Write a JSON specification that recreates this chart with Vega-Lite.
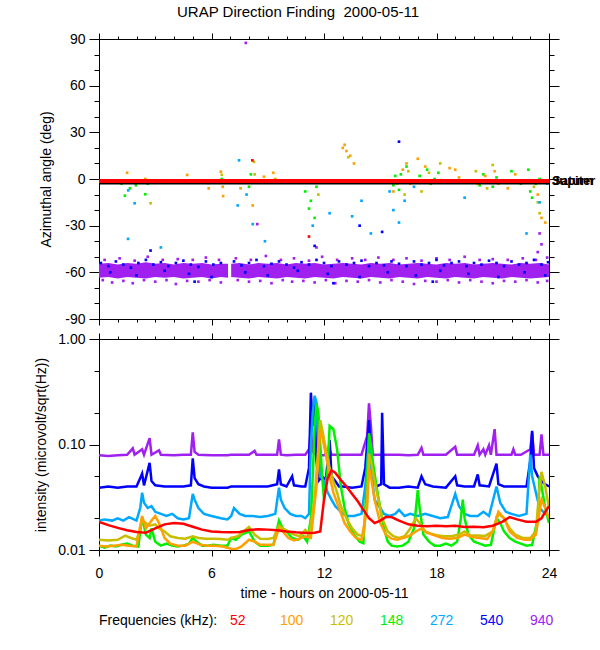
{
  "$schema": "https://vega.github.io/schema/vega-lite/v6.json",
  "title": {"text": "URAP Direction Finding \u00a02000-05-11", "fontSize": 15, "fontWeight": "normal", "font": "Liberation Sans", "color": "black", "anchor": "middle", "dx": -17, "offset": 12},
  "padding": {"left": 34, "top": 5, "right": 5, "bottom": 5},
  "spacing": 20,
  "bounds": "flush",
  "datasets": {
    "band": [
      {"t":0,"lo":-63.5,"hi":-54.5,"seg":"A"},{"t":0.5,"lo":-63,"hi":-54,"seg":"A"},{"t":1,"lo":-64,"hi":-55,"seg":"A"},{"t":1.5,"lo":-63,"hi":-54,"seg":"A"},{"t":2,"lo":-63.5,"hi":-54.5,"seg":"A"},{"t":2.5,"lo":-64,"hi":-53.5,"seg":"A"},{"t":3,"lo":-63,"hi":-54.5,"seg":"A"},{"t":3.5,"lo":-63.5,"hi":-54,"seg":"A"},{"t":4,"lo":-63,"hi":-55,"seg":"A"},{"t":4.5,"lo":-64,"hi":-54,"seg":"A"},{"t":5,"lo":-63.5,"hi":-54.5,"seg":"A"},{"t":5.5,"lo":-63,"hi":-54,"seg":"A"},{"t":6,"lo":-64,"hi":-55,"seg":"A"},{"t":6.5,"lo":-63,"hi":-54.5,"seg":"A"},{"t":6.88,"lo":-63.5,"hi":-54.5,"seg":"A"},
      {"t":7.05,"lo":-63,"hi":-54.5,"seg":"B"},{"t":7.5,"lo":-63.5,"hi":-54,"seg":"B"},{"t":8,"lo":-64,"hi":-55,"seg":"B"},{"t":8.5,"lo":-63,"hi":-54,"seg":"B"},{"t":9,"lo":-63.5,"hi":-54.5,"seg":"B"},{"t":9.5,"lo":-64,"hi":-54,"seg":"B"},{"t":10,"lo":-63,"hi":-55,"seg":"B"},{"t":10.5,"lo":-63.5,"hi":-54,"seg":"B"},{"t":11,"lo":-64,"hi":-54.5,"seg":"B"},{"t":11.5,"lo":-63,"hi":-54,"seg":"B"},{"t":12,"lo":-63.5,"hi":-55,"seg":"B"},{"t":12.5,"lo":-64,"hi":-54.5,"seg":"B"},{"t":13,"lo":-63,"hi":-54,"seg":"B"},{"t":13.5,"lo":-63.5,"hi":-54.5,"seg":"B"},{"t":14,"lo":-64,"hi":-55,"seg":"B"},{"t":14.5,"lo":-63,"hi":-54,"seg":"B"},{"t":15,"lo":-63.5,"hi":-54.5,"seg":"B"},{"t":15.5,"lo":-64,"hi":-54,"seg":"B"},{"t":16,"lo":-63,"hi":-55,"seg":"B"},{"t":16.5,"lo":-63.5,"hi":-54.5,"seg":"B"},{"t":17,"lo":-64,"hi":-54,"seg":"B"},{"t":17.5,"lo":-63,"hi":-54.5,"seg":"B"},{"t":18,"lo":-63.5,"hi":-55,"seg":"B"},{"t":18.5,"lo":-64,"hi":-54,"seg":"B"},{"t":19,"lo":-63,"hi":-54.5,"seg":"B"},{"t":19.5,"lo":-63.5,"hi":-54,"seg":"B"},{"t":20,"lo":-64,"hi":-55,"seg":"B"},{"t":20.5,"lo":-63,"hi":-54.5,"seg":"B"},{"t":21,"lo":-63.5,"hi":-54,"seg":"B"},{"t":21.5,"lo":-64,"hi":-54.5,"seg":"B"},{"t":22,"lo":-63,"hi":-55,"seg":"B"},{"t":22.5,"lo":-63.5,"hi":-54,"seg":"B"},{"t":23,"lo":-64,"hi":-54.5,"seg":"B"},{"t":23.5,"lo":-63.5,"hi":-54,"seg":"B"},{"t":24,"lo":-63,"hi":-55,"seg":"B"}
    ],
    "body": [
      {"body":"Jupiter","t":0,"a":-2.9},{"body":"Jupiter","t":24,"a":-2.9},
      {"body":"Saturn","t":0,"a":-1.3},{"body":"Saturn","t":24,"a":-1.3}
    ],
    "dfa": [
      {"t":0.3,"a":-52,"f":940},{"t":1.1,"a":-51,"f":940},{"t":1.9,"a":-52.5,"f":940},{"t":2.6,"a":-50,"f":940},{"t":3.4,"a":-52,"f":940},{"t":4.2,"a":-51.5,"f":940},{"t":5.0,"a":-52,"f":940},{"t":5.7,"a":-50.5,"f":940},{"t":6.4,"a":-52,"f":940},{"t":7.3,"a":-51,"f":940},{"t":8.1,"a":-52,"f":940},{"t":8.9,"a":-49.5,"f":940},{"t":9.7,"a":-52,"f":940},{"t":10.4,"a":-51,"f":940},{"t":11.2,"a":-52.5,"f":940},{"t":11.9,"a":-50,"f":940},{"t":12.7,"a":-52,"f":940},{"t":13.5,"a":-51,"f":940},{"t":14.2,"a":-52,"f":940},{"t":14.9,"a":-50.5,"f":940},{"t":15.7,"a":-52,"f":940},{"t":16.4,"a":-51,"f":940},{"t":17.2,"a":-52.5,"f":940},{"t":18.0,"a":-51,"f":940},{"t":18.7,"a":-52,"f":940},{"t":19.5,"a":-50,"f":940},{"t":20.3,"a":-52,"f":940},{"t":21.0,"a":-51.5,"f":940},{"t":21.8,"a":-52,"f":940},{"t":22.6,"a":-51,"f":940},{"t":23.3,"a":-52,"f":940},{"t":23.9,"a":-50.5,"f":940},
      {"t":0.2,"a":-65,"f":940},{"t":0.7,"a":-66.5,"f":940},{"t":1.3,"a":-65.5,"f":940},{"t":1.8,"a":-67,"f":940},{"t":2.4,"a":-65,"f":940},{"t":3.0,"a":-66,"f":940},{"t":3.6,"a":-65,"f":940},{"t":4.1,"a":-67.5,"f":940},{"t":4.7,"a":-65.5,"f":940},{"t":5.3,"a":-66,"f":940},{"t":5.9,"a":-65,"f":940},{"t":6.5,"a":-66.5,"f":940},{"t":7.4,"a":-65,"f":940},{"t":8.0,"a":-66,"f":940},{"t":8.6,"a":-65.5,"f":940},{"t":9.2,"a":-67,"f":940},{"t":9.8,"a":-65,"f":940},{"t":10.3,"a":-66,"f":940},{"t":10.9,"a":-65.5,"f":940},{"t":11.5,"a":-66.5,"f":940},{"t":12.1,"a":-65,"f":940},{"t":12.6,"a":-67,"f":940},{"t":13.2,"a":-65.5,"f":940},{"t":13.8,"a":-66,"f":940},{"t":14.4,"a":-65,"f":940},{"t":15.0,"a":-66.5,"f":940},{"t":15.6,"a":-65,"f":940},{"t":16.2,"a":-66,"f":940},{"t":16.8,"a":-67.5,"f":940},{"t":17.4,"a":-65.5,"f":940},{"t":18.0,"a":-66,"f":940},{"t":18.6,"a":-65,"f":940},{"t":19.2,"a":-66.5,"f":940},{"t":19.8,"a":-65,"f":940},{"t":20.4,"a":-66,"f":940},{"t":21.0,"a":-67,"f":940},{"t":21.6,"a":-65.5,"f":940},{"t":22.2,"a":-66,"f":940},{"t":22.8,"a":-65,"f":940},{"t":23.4,"a":-66.5,"f":940},{"t":23.9,"a":-65.5,"f":940},
      {"t":7.83,"a":87.5,"f":940},{"t":8.44,"a":-29,"f":940},{"t":23.5,"a":-35,"f":940},{"t":23.6,"a":-42,"f":940},{"t":23.4,"a":-47,"f":940},{"t":11.6,"a":-44,"f":940},
      {"t":0.1,"a":-54,"f":540},{"t":0.5,"a":-56,"f":540},{"t":0.9,"a":-53,"f":540},{"t":1.3,"a":-55,"f":540},{"t":1.7,"a":-57,"f":540},{"t":2.1,"a":-54,"f":540},{"t":2.5,"a":-52,"f":540},{"t":2.9,"a":-55,"f":540},{"t":3.3,"a":-53.5,"f":540},{"t":3.7,"a":-56,"f":540},{"t":4.1,"a":-54,"f":540},{"t":4.5,"a":-52.5,"f":540},{"t":4.9,"a":-55,"f":540},{"t":5.3,"a":-56.5,"f":540},{"t":5.7,"a":-53,"f":540},{"t":6.1,"a":-55,"f":540},{"t":6.5,"a":-54,"f":540},{"t":7.2,"a":-53,"f":540},{"t":7.6,"a":-55.5,"f":540},{"t":8.0,"a":-54,"f":540},{"t":8.4,"a":-52,"f":540},{"t":8.8,"a":-56,"f":540},{"t":9.2,"a":-54.5,"f":540},{"t":9.6,"a":-53,"f":540},{"t":10.0,"a":-55,"f":540},{"t":10.4,"a":-57,"f":540},{"t":10.8,"a":-53.5,"f":540},{"t":11.2,"a":-55,"f":540},{"t":11.6,"a":-52,"f":540},{"t":12.0,"a":-54,"f":540},{"t":12.4,"a":-56,"f":540},{"t":12.8,"a":-53,"f":540},{"t":13.2,"a":-55,"f":540},{"t":13.6,"a":-54,"f":540},{"t":14.0,"a":-52.5,"f":540},{"t":14.4,"a":-56,"f":540},{"t":14.8,"a":-54,"f":540},{"t":15.2,"a":-55.5,"f":540},{"t":15.6,"a":-53,"f":540},{"t":16.0,"a":-54.5,"f":540},{"t":16.4,"a":-56,"f":540},{"t":16.8,"a":-53,"f":540},{"t":17.2,"a":-55,"f":540},{"t":17.6,"a":-54,"f":540},{"t":18.0,"a":-52,"f":540},{"t":18.4,"a":-55.5,"f":540},{"t":18.8,"a":-54,"f":540},{"t":19.2,"a":-53,"f":540},{"t":19.6,"a":-56,"f":540},{"t":20.0,"a":-54,"f":540},{"t":20.4,"a":-55,"f":540},{"t":20.8,"a":-52.5,"f":540},{"t":21.2,"a":-54,"f":540},{"t":21.6,"a":-56,"f":540},{"t":22.0,"a":-53,"f":540},{"t":22.4,"a":-55,"f":540},{"t":22.8,"a":-54,"f":540},{"t":23.2,"a":-52,"f":540},{"t":23.6,"a":-55,"f":540},{"t":23.95,"a":-53.5,"f":540},
      {"t":0.6,"a":-60,"f":540},{"t":2.0,"a":-62,"f":540},{"t":3.5,"a":-59,"f":540},{"t":4.8,"a":-61,"f":540},{"t":6.0,"a":-63,"f":540},{"t":7.8,"a":-60,"f":540},{"t":9.0,"a":-62,"f":540},{"t":10.6,"a":-59,"f":540},{"t":12.2,"a":-61,"f":540},{"t":13.9,"a":-63,"f":540},{"t":15.4,"a":-60,"f":540},{"t":16.9,"a":-62,"f":540},{"t":18.2,"a":-59,"f":540},{"t":19.7,"a":-61,"f":540},{"t":21.3,"a":-63,"f":540},{"t":22.7,"a":-60,"f":540},{"t":23.8,"a":-62,"f":540},{"t":5.1,"a":-66,"f":540},{"t":12.5,"a":-67,"f":540},{"t":17.8,"a":-66,"f":540},
      {"t":16.0,"a":24,"f":540},{"t":15.1,"a":-34,"f":540},{"t":2.75,"a":-46,"f":540},{"t":11.5,"a":-43,"f":540},{"t":13.9,"a":-30,"f":540},
      {"t":1.07,"a":-1,"f":148},{"t":1.2,"a":-3,"f":148},{"t":1.38,"a":-10.7,"f":148},{"t":1.5,"a":-2,"f":148},{"t":1.65,"a":-6,"f":148},{"t":1.8,"a":-1.5,"f":148},{"t":1.97,"a":-4,"f":148},{"t":2.47,"a":-9.8,"f":148},{"t":2.6,"a":-3,"f":148},{"t":5.85,"a":-2.5,"f":148},{"t":6.55,"a":0,"f":148},{"t":8.0,"a":-5,"f":148},{"t":8.1,"a":3,"f":148},{"t":11.0,"a":-8,"f":148},{"t":11.2,"a":-19,"f":148},{"t":11.3,"a":-14,"f":148},{"t":11.5,"a":-25,"f":148},{"t":11.6,"a":-5,"f":148},{"t":11.8,"a":-2,"f":148},
      {"t":15.6,"a":-1,"f":148},{"t":15.7,"a":-4,"f":148},{"t":15.8,"a":2,"f":148},{"t":15.9,"a":-1,"f":148},{"t":16.0,"a":-7,"f":148},{"t":16.1,"a":3,"f":148},{"t":16.2,"a":-2,"f":148},{"t":16.4,"a":8,"f":148},{"t":17.1,"a":2,"f":148},{"t":17.3,"a":-1,"f":148},{"t":17.5,"a":6,"f":148},{"t":17.7,"a":-3,"f":148},{"t":17.9,"a":0,"f":148},{"t":18.1,"a":4,"f":148},{"t":20.0,"a":-1,"f":148},{"t":20.3,"a":-4,"f":148},{"t":20.5,"a":3,"f":148},{"t":20.8,"a":-1,"f":148},{"t":21.0,"a":-5,"f":148},{"t":21.2,"a":1,"f":148},{"t":21.4,"a":-2,"f":148},{"t":22.0,"a":5,"f":148},{"t":22.5,"a":-3,"f":148},{"t":22.9,"a":6,"f":148},{"t":23.0,"a":-8,"f":148},{"t":23.1,"a":-12,"f":148},{"t":23.3,"a":-3,"f":148},{"t":23.5,"a":0,"f":148},
      {"t":1.5,"a":4,"f":100},{"t":2.47,"a":0,"f":100},{"t":4.7,"a":2.6,"f":100},{"t":5.85,"a":-6,"f":100},{"t":6.5,"a":4.7,"f":100},{"t":6.6,"a":-5,"f":100},{"t":6.62,"a":-11,"f":100},{"t":7.2,"a":-1,"f":100},{"t":8.2,"a":-17,"f":100},{"t":8.8,"a":1.5,"f":100},{"t":9.3,"a":4,"f":100},{"t":9.4,"a":0,"f":100},{"t":13.0,"a":20,"f":100},{"t":13.2,"a":18,"f":100},{"t":13.4,"a":15,"f":100},{"t":13.6,"a":10,"f":100},{"t":13.1,"a":22,"f":100},{"t":15.7,"a":-8,"f":100},{"t":16.2,"a":6,"f":100},{"t":16.4,"a":10,"f":100},{"t":16.6,"a":-3,"f":100},{"t":17.0,"a":13,"f":100},{"t":17.4,"a":8,"f":100},{"t":18.7,"a":7,"f":100},{"t":19.0,"a":6,"f":100},{"t":19.2,"a":1,"f":100},{"t":20.2,"a":-3,"f":100},{"t":20.6,"a":2,"f":100},{"t":21.1,"a":5,"f":100},{"t":21.8,"a":-6,"f":100},{"t":22.2,"a":3,"f":100},{"t":23.4,"a":-10,"f":100},{"t":23.6,"a":-25,"f":100},{"t":23.8,"a":-28,"f":100},
      {"t":2.75,"a":-15.6,"f":120},{"t":6.55,"a":2.7,"f":120},{"t":7.55,"a":-6,"f":120},{"t":8.27,"a":11,"f":120},{"t":8.3,"a":3,"f":120},{"t":13.3,"a":14,"f":120},{"t":13.5,"a":-2,"f":120},{"t":15.9,"a":-3,"f":120},{"t":16.3,"a":-10,"f":120},{"t":16.5,"a":5,"f":120},{"t":17.2,"a":-8,"f":120},{"t":17.6,"a":4,"f":120},{"t":18.2,"a":10,"f":120},{"t":18.9,"a":-2,"f":120},{"t":20.1,"a":5,"f":120},{"t":20.7,"a":-6,"f":120},{"t":21.0,"a":9,"f":120},{"t":21.3,"a":-3,"f":120},{"t":22.4,"a":-2,"f":120},{"t":23.2,"a":-5,"f":120},{"t":23.4,"a":-15,"f":120},{"t":23.5,"a":-22,"f":120},{"t":11.7,"a":-10,"f":120},
      {"t":1.56,"a":-7.3,"f":272},{"t":1.9,"a":-15.6,"f":272},{"t":1.55,"a":-38.5,"f":272},{"t":3.3,"a":-44,"f":272},{"t":7.47,"a":12,"f":272},{"t":7.4,"a":-17,"f":272},{"t":7.87,"a":-10,"f":272},{"t":8.2,"a":-29,"f":272},{"t":8.85,"a":-40,"f":272},{"t":11.4,"a":-30,"f":272},{"t":12.3,"a":-22,"f":272},{"t":13.5,"a":-24,"f":272},{"t":14.0,"a":-14,"f":272},{"t":14.5,"a":-35,"f":272},{"t":15.5,"a":-8,"f":272},{"t":15.7,"a":-20,"f":272},{"t":16.0,"a":-28,"f":272},{"t":16.3,"a":-14,"f":272},{"t":16.8,"a":-5,"f":272},{"t":19.5,"a":-12,"f":272},{"t":22.8,"a":-35,"f":272},{"t":23.5,"a":-15,"f":272},{"t":23.9,"a":-3,"f":272},
      {"t":8.18,"a":12,"f":52},{"t":11.2,"a":-37,"f":52}
    ],
    "ints": [
      {"t":0,"v":0.079,"f":940},{"t":0.5,"v":0.078,"f":940},{"t":1.0,"v":0.079,"f":940},{"t":1.5,"v":0.08,"f":940},{"t":1.8,"v":0.092,"f":940},{"t":1.9,"v":0.08,"f":940},{"t":2.3,"v":0.09,"f":940},{"t":2.4,"v":0.08,"f":940},{"t":2.7,"v":0.115,"f":940},{"t":2.8,"v":0.08,"f":940},{"t":3.2,"v":0.088,"f":940},{"t":3.3,"v":0.08,"f":940},{"t":4.0,"v":0.079,"f":940},{"t":4.5,"v":0.08,"f":940},{"t":4.9,"v":0.08,"f":940},{"t":5.0,"v":0.13,"f":940},{"t":5.1,"v":0.085,"f":940},{"t":5.3,"v":0.08,"f":940},{"t":6.0,"v":0.079,"f":940},{"t":6.85,"v":0.079,"f":940},{"t":7.05,"v":0.08,"f":940},{"t":7.5,"v":0.08,"f":940},{"t":8.0,"v":0.08,"f":940},{"t":8.3,"v":0.087,"f":940},{"t":8.4,"v":0.08,"f":940},{"t":9.0,"v":0.08,"f":940},{"t":9.5,"v":0.08,"f":940},{"t":9.6,"v":0.112,"f":940},{"t":9.7,"v":0.08,"f":940},{"t":10.0,"v":0.079,"f":940},{"t":10.5,"v":0.08,"f":940},{"t":11.0,"v":0.08,"f":940},{"t":11.2,"v":0.09,"f":940},{"t":11.3,"v":0.136,"f":940},{"t":11.4,"v":0.085,"f":940},{"t":11.6,"v":0.079,"f":940},{"t":12.0,"v":0.079,"f":940},{"t":12.3,"v":0.09,"f":940},{"t":12.4,"v":0.08,"f":940},{"t":13.0,"v":0.08,"f":940},{"t":13.5,"v":0.08,"f":940},{"t":14.0,"v":0.08,"f":940},{"t":14.3,"v":0.12,"f":940},{"t":14.4,"v":0.245,"f":940},{"t":14.5,"v":0.15,"f":940},{"t":14.6,"v":0.08,"f":940},{"t":15.0,"v":0.08,"f":940},{"t":15.5,"v":0.08,"f":940},{"t":16.0,"v":0.08,"f":940},{"t":16.5,"v":0.079,"f":940},{"t":17.0,"v":0.08,"f":940},{"t":17.2,"v":0.093,"f":940},{"t":17.3,"v":0.08,"f":940},{"t":18.0,"v":0.08,"f":940},{"t":18.5,"v":0.08,"f":940},{"t":19.0,"v":0.095,"f":940},{"t":19.1,"v":0.08,"f":940},{"t":19.5,"v":0.08,"f":940},{"t":20.0,"v":0.08,"f":940},{"t":20.2,"v":0.098,"f":940},{"t":20.3,"v":0.08,"f":940},{"t":20.5,"v":0.09,"f":940},{"t":20.6,"v":0.08,"f":940},{"t":20.8,"v":0.098,"f":940},{"t":20.9,"v":0.08,"f":940},{"t":21.1,"v":0.14,"f":940},{"t":21.2,"v":0.08,"f":940},{"t":21.5,"v":0.08,"f":940},{"t":22.0,"v":0.08,"f":940},{"t":22.1,"v":0.09,"f":940},{"t":22.2,"v":0.08,"f":940},{"t":22.5,"v":0.08,"f":940},{"t":23.0,"v":0.09,"f":940},{"t":23.1,"v":0.13,"f":940},{"t":23.2,"v":0.08,"f":940},{"t":23.5,"v":0.08,"f":940},{"t":23.6,"v":0.125,"f":940},{"t":23.7,"v":0.08,"f":940},{"t":24.0,"v":0.08,"f":940},
      {"t":0,"v":0.039,"f":540},{"t":0.5,"v":0.04,"f":540},{"t":1.0,"v":0.039,"f":540},{"t":1.5,"v":0.04,"f":540},{"t":2.0,"v":0.04,"f":540},{"t":2.2,"v":0.048,"f":540},{"t":2.3,"v":0.053,"f":540},{"t":2.4,"v":0.041,"f":540},{"t":2.7,"v":0.067,"f":540},{"t":2.8,"v":0.045,"f":540},{"t":3.0,"v":0.041,"f":540},{"t":3.5,"v":0.04,"f":540},{"t":4.0,"v":0.04,"f":540},{"t":4.5,"v":0.04,"f":540},{"t":4.9,"v":0.041,"f":540},{"t":5.0,"v":0.074,"f":540},{"t":5.1,"v":0.048,"f":540},{"t":5.3,"v":0.042,"f":540},{"t":5.6,"v":0.04,"f":540},{"t":6.0,"v":0.039,"f":540},{"t":6.5,"v":0.039,"f":540},{"t":6.85,"v":0.039,"f":540},{"t":7.05,"v":0.04,"f":540},{"t":7.5,"v":0.04,"f":540},{"t":8.0,"v":0.04,"f":540},{"t":8.5,"v":0.04,"f":540},{"t":9.0,"v":0.04,"f":540},{"t":9.5,"v":0.042,"f":540},{"t":9.6,"v":0.058,"f":540},{"t":9.7,"v":0.042,"f":540},{"t":10.0,"v":0.04,"f":540},{"t":10.3,"v":0.05,"f":540},{"t":10.4,"v":0.041,"f":540},{"t":10.8,"v":0.04,"f":540},{"t":11.0,"v":0.04,"f":540},{"t":11.2,"v":0.06,"f":540},{"t":11.3,"v":0.31,"f":540},{"t":11.4,"v":0.15,"f":540},{"t":11.5,"v":0.25,"f":540},{"t":11.6,"v":0.07,"f":540},{"t":11.7,"v":0.045,"f":540},{"t":11.9,"v":0.05,"f":540},{"t":12.1,"v":0.046,"f":540},{"t":12.3,"v":0.11,"f":540},{"t":12.4,"v":0.05,"f":540},{"t":12.6,"v":0.045,"f":540},{"t":12.8,"v":0.04,"f":540},{"t":13.0,"v":0.04,"f":540},{"t":13.5,"v":0.039,"f":540},{"t":14.0,"v":0.04,"f":540},{"t":14.2,"v":0.06,"f":540},{"t":14.4,"v":0.17,"f":540},{"t":14.5,"v":0.08,"f":540},{"t":14.6,"v":0.05,"f":540},{"t":14.8,"v":0.04,"f":540},{"t":15.05,"v":0.042,"f":540},{"t":15.1,"v":0.2,"f":540},{"t":15.2,"v":0.042,"f":540},{"t":15.5,"v":0.039,"f":540},{"t":16.0,"v":0.039,"f":540},{"t":16.5,"v":0.04,"f":540},{"t":17.0,"v":0.039,"f":540},{"t":17.2,"v":0.05,"f":540},{"t":17.4,"v":0.042,"f":540},{"t":17.8,"v":0.04,"f":540},{"t":18.5,"v":0.039,"f":540},{"t":19.0,"v":0.05,"f":540},{"t":19.1,"v":0.041,"f":540},{"t":19.5,"v":0.04,"f":540},{"t":20.0,"v":0.04,"f":540},{"t":20.2,"v":0.052,"f":540},{"t":20.3,"v":0.041,"f":540},{"t":20.8,"v":0.04,"f":540},{"t":21.2,"v":0.066,"f":540},{"t":21.3,"v":0.042,"f":540},{"t":21.6,"v":0.04,"f":540},{"t":22.0,"v":0.04,"f":540},{"t":22.5,"v":0.04,"f":540},{"t":22.8,"v":0.04,"f":540},{"t":23.0,"v":0.07,"f":540},{"t":23.1,"v":0.135,"f":540},{"t":23.2,"v":0.06,"f":540},{"t":23.4,"v":0.05,"f":540},{"t":23.6,"v":0.045,"f":540},{"t":23.8,"v":0.042,"f":540},{"t":24.0,"v":0.04,"f":540},
      {"t":0,"v":0.019,"f":272},{"t":0.3,"v":0.0195,"f":272},{"t":0.7,"v":0.019,"f":272},{"t":1.0,"v":0.02,"f":272},{"t":1.3,"v":0.019,"f":272},{"t":1.6,"v":0.0205,"f":272},{"t":2.0,"v":0.019,"f":272},{"t":2.2,"v":0.025,"f":272},{"t":2.3,"v":0.035,"f":272},{"t":2.4,"v":0.028,"f":272},{"t":2.6,"v":0.025,"f":272},{"t":2.8,"v":0.026,"f":272},{"t":3.0,"v":0.023,"f":272},{"t":3.3,"v":0.022,"f":272},{"t":3.6,"v":0.021,"f":272},{"t":3.9,"v":0.022,"f":272},{"t":4.2,"v":0.02,"f":272},{"t":4.5,"v":0.0195,"f":272},{"t":4.8,"v":0.02,"f":272},{"t":5.0,"v":0.034,"f":272},{"t":5.1,"v":0.03,"f":272},{"t":5.3,"v":0.025,"f":272},{"t":5.6,"v":0.022,"f":272},{"t":6.0,"v":0.021,"f":272},{"t":6.5,"v":0.02,"f":272},{"t":6.85,"v":0.0195,"f":272},{"t":7.05,"v":0.021,"f":272},{"t":7.2,"v":0.025,"f":272},{"t":7.5,"v":0.022,"f":272},{"t":7.8,"v":0.021,"f":272},{"t":8.2,"v":0.021,"f":272},{"t":8.6,"v":0.0205,"f":272},{"t":9.0,"v":0.021,"f":272},{"t":9.4,"v":0.022,"f":272},{"t":9.6,"v":0.039,"f":272},{"t":9.7,"v":0.03,"f":272},{"t":9.9,"v":0.025,"f":272},{"t":10.2,"v":0.022,"f":272},{"t":10.5,"v":0.021,"f":272},{"t":10.8,"v":0.021,"f":272},{"t":11.0,"v":0.02,"f":272},{"t":11.2,"v":0.022,"f":272},{"t":11.3,"v":0.1,"f":272},{"t":11.4,"v":0.2,"f":272},{"t":11.5,"v":0.29,"f":272},{"t":11.6,"v":0.25,"f":272},{"t":11.7,"v":0.1,"f":272},{"t":11.8,"v":0.05,"f":272},{"t":12.0,"v":0.045,"f":272},{"t":12.2,"v":0.035,"f":272},{"t":12.4,"v":0.03,"f":272},{"t":12.6,"v":0.026,"f":272},{"t":12.8,"v":0.024,"f":272},{"t":13.0,"v":0.022,"f":272},{"t":13.3,"v":0.021,"f":272},{"t":13.6,"v":0.021,"f":272},{"t":14.0,"v":0.022,"f":272},{"t":14.2,"v":0.04,"f":272},{"t":14.4,"v":0.11,"f":272},{"t":14.5,"v":0.06,"f":272},{"t":14.7,"v":0.03,"f":272},{"t":15.0,"v":0.025,"f":272},{"t":15.2,"v":0.022,"f":272},{"t":15.5,"v":0.021,"f":272},{"t":15.8,"v":0.022,"f":272},{"t":16.0,"v":0.024,"f":272},{"t":16.3,"v":0.021,"f":272},{"t":16.6,"v":0.022,"f":272},{"t":17.0,"v":0.021,"f":272},{"t":17.4,"v":0.022,"f":272},{"t":17.8,"v":0.021,"f":272},{"t":18.2,"v":0.02,"f":272},{"t":18.6,"v":0.0205,"f":272},{"t":19.0,"v":0.034,"f":272},{"t":19.2,"v":0.026,"f":272},{"t":19.5,"v":0.022,"f":272},{"t":19.8,"v":0.021,"f":272},{"t":20.2,"v":0.021,"f":272},{"t":20.5,"v":0.023,"f":272},{"t":20.8,"v":0.021,"f":272},{"t":21.2,"v":0.04,"f":272},{"t":21.4,"v":0.028,"f":272},{"t":21.7,"v":0.023,"f":272},{"t":22.0,"v":0.022,"f":272},{"t":22.4,"v":0.021,"f":272},{"t":22.8,"v":0.022,"f":272},{"t":23.0,"v":0.08,"f":272},{"t":23.1,"v":0.05,"f":272},{"t":23.3,"v":0.035,"f":272},{"t":23.5,"v":0.025,"f":272},{"t":23.8,"v":0.022,"f":272},{"t":24.0,"v":0.021,"f":272},
      {"t":0,"v":0.011,"f":148},{"t":0.3,"v":0.0105,"f":148},{"t":0.6,"v":0.011,"f":148},{"t":0.9,"v":0.0108,"f":148},{"t":1.2,"v":0.0112,"f":148},{"t":1.5,"v":0.0115,"f":148},{"t":1.8,"v":0.011,"f":148},{"t":2.1,"v":0.0108,"f":148},{"t":2.2,"v":0.015,"f":148},{"t":2.3,"v":0.02,"f":148},{"t":2.4,"v":0.017,"f":148},{"t":2.5,"v":0.014,"f":148},{"t":2.7,"v":0.013,"f":148},{"t":2.8,"v":0.016,"f":148},{"t":3.0,"v":0.012,"f":148},{"t":3.3,"v":0.011,"f":148},{"t":3.6,"v":0.0115,"f":148},{"t":3.9,"v":0.011,"f":148},{"t":4.2,"v":0.0108,"f":148},{"t":4.5,"v":0.011,"f":148},{"t":4.8,"v":0.0115,"f":148},{"t":5.0,"v":0.013,"f":148},{"t":5.2,"v":0.012,"f":148},{"t":5.5,"v":0.011,"f":148},{"t":5.8,"v":0.011,"f":148},{"t":6.1,"v":0.0112,"f":148},{"t":6.5,"v":0.011,"f":148},{"t":6.85,"v":0.011,"f":148},{"t":7.05,"v":0.013,"f":148},{"t":7.3,"v":0.0125,"f":148},{"t":7.6,"v":0.014,"f":148},{"t":8.0,"v":0.015,"f":148},{"t":8.3,"v":0.012,"f":148},{"t":8.6,"v":0.011,"f":148},{"t":9.0,"v":0.011,"f":148},{"t":9.3,"v":0.0112,"f":148},{"t":9.6,"v":0.019,"f":148},{"t":9.8,"v":0.016,"f":148},{"t":10.0,"v":0.015,"f":148},{"t":10.3,"v":0.013,"f":148},{"t":10.6,"v":0.0125,"f":148},{"t":10.9,"v":0.0135,"f":148},{"t":11.1,"v":0.012,"f":148},{"t":11.3,"v":0.02,"f":148},{"t":11.4,"v":0.05,"f":148},{"t":11.5,"v":0.15,"f":148},{"t":11.6,"v":0.245,"f":148},{"t":11.7,"v":0.2,"f":148},{"t":11.8,"v":0.1,"f":148},{"t":11.9,"v":0.05,"f":148},{"t":12.0,"v":0.03,"f":148},{"t":12.2,"v":0.06,"f":148},{"t":12.3,"v":0.15,"f":148},{"t":12.5,"v":0.14,"f":148},{"t":12.7,"v":0.09,"f":148},{"t":12.9,"v":0.04,"f":148},{"t":13.1,"v":0.025,"f":148},{"t":13.3,"v":0.018,"f":148},{"t":13.6,"v":0.014,"f":148},{"t":13.9,"v":0.012,"f":148},{"t":14.1,"v":0.0116,"f":148},{"t":14.3,"v":0.05,"f":148},{"t":14.4,"v":0.128,"f":148},{"t":14.5,"v":0.1,"f":148},{"t":14.6,"v":0.07,"f":148},{"t":14.8,"v":0.04,"f":148},{"t":15.0,"v":0.025,"f":148},{"t":15.2,"v":0.016,"f":148},{"t":15.4,"v":0.012,"f":148},{"t":15.6,"v":0.011,"f":148},{"t":15.9,"v":0.0108,"f":148},{"t":16.2,"v":0.011,"f":148},{"t":16.5,"v":0.012,"f":148},{"t":16.8,"v":0.016,"f":148},{"t":17.0,"v":0.037,"f":148},{"t":17.1,"v":0.025,"f":148},{"t":17.3,"v":0.014,"f":148},{"t":17.6,"v":0.012,"f":148},{"t":17.9,"v":0.011,"f":148},{"t":18.2,"v":0.011,"f":148},{"t":18.5,"v":0.0115,"f":148},{"t":18.8,"v":0.011,"f":148},{"t":19.1,"v":0.012,"f":148},{"t":19.3,"v":0.02,"f":148},{"t":19.4,"v":0.03,"f":148},{"t":19.5,"v":0.02,"f":148},{"t":19.7,"v":0.014,"f":148},{"t":20.0,"v":0.012,"f":148},{"t":20.3,"v":0.0115,"f":148},{"t":20.6,"v":0.011,"f":148},{"t":20.9,"v":0.0112,"f":148},{"t":21.2,"v":0.02,"f":148},{"t":21.4,"v":0.018,"f":148},{"t":21.6,"v":0.015,"f":148},{"t":21.9,"v":0.013,"f":148},{"t":22.2,"v":0.012,"f":148},{"t":22.5,"v":0.0115,"f":148},{"t":22.8,"v":0.011,"f":148},{"t":23.1,"v":0.0112,"f":148},{"t":23.4,"v":0.02,"f":148},{"t":23.5,"v":0.05,"f":148},{"t":23.6,"v":0.04,"f":148},{"t":23.8,"v":0.025,"f":148},{"t":24.0,"v":0.018,"f":148},
      {"t":0,"v":0.0125,"f":120},{"t":0.5,"v":0.0123,"f":120},{"t":1.0,"v":0.0125,"f":120},{"t":1.4,"v":0.0137,"f":120},{"t":1.7,"v":0.013,"f":120},{"t":2.0,"v":0.0125,"f":120},{"t":2.2,"v":0.016,"f":120},{"t":2.3,"v":0.019,"f":120},{"t":2.5,"v":0.018,"f":120},{"t":2.7,"v":0.017,"f":120},{"t":3.0,"v":0.0175,"f":120},{"t":3.2,"v":0.016,"f":120},{"t":3.5,"v":0.015,"f":120},{"t":3.8,"v":0.0135,"f":120},{"t":4.2,"v":0.013,"f":120},{"t":4.6,"v":0.0128,"f":120},{"t":5.0,"v":0.0135,"f":120},{"t":5.3,"v":0.013,"f":120},{"t":5.7,"v":0.0128,"f":120},{"t":6.1,"v":0.0128,"f":120},{"t":6.5,"v":0.0127,"f":120},{"t":6.85,"v":0.0125,"f":120},{"t":7.05,"v":0.013,"f":120},{"t":7.4,"v":0.0135,"f":120},{"t":7.7,"v":0.015,"f":120},{"t":8.0,"v":0.0165,"f":120},{"t":8.3,"v":0.014,"f":120},{"t":8.6,"v":0.0128,"f":120},{"t":9.0,"v":0.0127,"f":120},{"t":9.3,"v":0.013,"f":120},{"t":9.6,"v":0.017,"f":120},{"t":9.8,"v":0.016,"f":120},{"t":10.1,"v":0.015,"f":120},{"t":10.4,"v":0.014,"f":120},{"t":10.7,"v":0.0135,"f":120},{"t":11.0,"v":0.0155,"f":120},{"t":11.2,"v":0.014,"f":120},{"t":11.5,"v":0.03,"f":120},{"t":11.7,"v":0.1,"f":120},{"t":11.8,"v":0.17,"f":120},{"t":11.9,"v":0.14,"f":120},{"t":12.1,"v":0.09,"f":120},{"t":12.3,"v":0.06,"f":120},{"t":12.5,"v":0.045,"f":120},{"t":12.7,"v":0.035,"f":120},{"t":12.9,"v":0.026,"f":120},{"t":13.2,"v":0.02,"f":120},{"t":13.5,"v":0.016,"f":120},{"t":13.8,"v":0.014,"f":120},{"t":14.1,"v":0.0135,"f":120},{"t":14.3,"v":0.03,"f":120},{"t":14.4,"v":0.082,"f":120},{"t":14.5,"v":0.07,"f":120},{"t":14.7,"v":0.045,"f":120},{"t":14.9,"v":0.03,"f":120},{"t":15.1,"v":0.02,"f":120},{"t":15.4,"v":0.015,"f":120},{"t":15.7,"v":0.0135,"f":120},{"t":16.0,"v":0.013,"f":120},{"t":16.3,"v":0.0135,"f":120},{"t":16.6,"v":0.016,"f":120},{"t":16.9,"v":0.02,"f":120},{"t":17.1,"v":0.018,"f":120},{"t":17.4,"v":0.015,"f":120},{"t":17.7,"v":0.0143,"f":120},{"t":18.0,"v":0.0138,"f":120},{"t":18.4,"v":0.0135,"f":120},{"t":18.8,"v":0.0135,"f":120},{"t":19.2,"v":0.014,"f":120},{"t":19.5,"v":0.015,"f":120},{"t":19.8,"v":0.0138,"f":120},{"t":20.2,"v":0.0137,"f":120},{"t":20.6,"v":0.0136,"f":120},{"t":21.0,"v":0.015,"f":120},{"t":21.3,"v":0.022,"f":120},{"t":21.6,"v":0.02,"f":120},{"t":21.9,"v":0.016,"f":120},{"t":22.2,"v":0.014,"f":120},{"t":22.6,"v":0.013,"f":120},{"t":23.0,"v":0.013,"f":120},{"t":23.3,"v":0.015,"f":120},{"t":23.5,"v":0.04,"f":120},{"t":23.6,"v":0.055,"f":120},{"t":23.8,"v":0.04,"f":120},{"t":24.0,"v":0.025,"f":120},
      {"t":0,"v":0.011,"f":100},{"t":0.4,"v":0.0108,"f":100},{"t":0.8,"v":0.011,"f":100},{"t":1.2,"v":0.0112,"f":100},{"t":1.6,"v":0.011,"f":100},{"t":2.0,"v":0.0108,"f":100},{"t":2.2,"v":0.017,"f":100},{"t":2.3,"v":0.021,"f":100},{"t":2.5,"v":0.016,"f":100},{"t":2.8,"v":0.019,"f":100},{"t":3.0,"v":0.021,"f":100},{"t":3.2,"v":0.018,"f":100},{"t":3.5,"v":0.013,"f":100},{"t":3.8,"v":0.0115,"f":100},{"t":4.2,"v":0.011,"f":100},{"t":4.6,"v":0.011,"f":100},{"t":5.0,"v":0.012,"f":100},{"t":5.4,"v":0.0112,"f":100},{"t":5.8,"v":0.011,"f":100},{"t":6.2,"v":0.011,"f":100},{"t":6.6,"v":0.0108,"f":100},{"t":6.85,"v":0.0105,"f":100},{"t":7.05,"v":0.0103,"f":100},{"t":7.3,"v":0.0102,"f":100},{"t":7.6,"v":0.0108,"f":100},{"t":8.0,"v":0.0125,"f":100},{"t":8.3,"v":0.012,"f":100},{"t":8.6,"v":0.0112,"f":100},{"t":9.0,"v":0.0112,"f":100},{"t":9.3,"v":0.0112,"f":100},{"t":9.6,"v":0.016,"f":100},{"t":9.8,"v":0.015,"f":100},{"t":10.1,"v":0.013,"f":100},{"t":10.4,"v":0.0123,"f":100},{"t":10.7,"v":0.0128,"f":100},{"t":11.0,"v":0.0135,"f":100},{"t":11.3,"v":0.013,"f":100},{"t":11.6,"v":0.04,"f":100},{"t":11.8,"v":0.14,"f":100},{"t":11.9,"v":0.12,"f":100},{"t":12.1,"v":0.08,"f":100},{"t":12.3,"v":0.05,"f":100},{"t":12.5,"v":0.035,"f":100},{"t":12.8,"v":0.025,"f":100},{"t":13.1,"v":0.018,"f":100},{"t":13.4,"v":0.015,"f":100},{"t":13.7,"v":0.013,"f":100},{"t":14.0,"v":0.0125,"f":100},{"t":14.3,"v":0.025,"f":100},{"t":14.4,"v":0.06,"f":100},{"t":14.5,"v":0.05,"f":100},{"t":14.7,"v":0.03,"f":100},{"t":15.0,"v":0.018,"f":100},{"t":15.3,"v":0.014,"f":100},{"t":15.6,"v":0.0128,"f":100},{"t":15.9,"v":0.0125,"f":100},{"t":16.2,"v":0.013,"f":100},{"t":16.5,"v":0.0135,"f":100},{"t":16.9,"v":0.015,"f":100},{"t":17.2,"v":0.016,"f":100},{"t":17.5,"v":0.0145,"f":100},{"t":17.9,"v":0.0138,"f":100},{"t":18.3,"v":0.013,"f":100},{"t":18.7,"v":0.0128,"f":100},{"t":19.1,"v":0.013,"f":100},{"t":19.5,"v":0.014,"f":100},{"t":19.9,"v":0.0133,"f":100},{"t":20.3,"v":0.013,"f":100},{"t":20.7,"v":0.0127,"f":100},{"t":21.0,"v":0.015,"f":100},{"t":21.3,"v":0.023,"f":100},{"t":21.6,"v":0.02,"f":100},{"t":21.9,"v":0.015,"f":100},{"t":22.3,"v":0.013,"f":100},{"t":22.7,"v":0.0125,"f":100},{"t":23.0,"v":0.0125,"f":100},{"t":23.3,"v":0.014,"f":100},{"t":23.6,"v":0.03,"f":100},{"t":23.8,"v":0.025,"f":100},{"t":24.0,"v":0.02,"f":100},
      {"t":0,"v":0.0185,"f":52},{"t":0.5,"v":0.0172,"f":52},{"t":1.0,"v":0.0162,"f":52},{"t":1.5,"v":0.0154,"f":52},{"t":2.0,"v":0.0148,"f":52},{"t":2.5,"v":0.0146,"f":52},{"t":3.0,"v":0.016,"f":52},{"t":3.5,"v":0.0175,"f":52},{"t":4.0,"v":0.018,"f":52},{"t":4.5,"v":0.0177,"f":52},{"t":5.0,"v":0.0166,"f":52},{"t":5.5,"v":0.0156,"f":52},{"t":6.0,"v":0.015,"f":52},{"t":6.5,"v":0.0148,"f":52},{"t":7.0,"v":0.0147,"f":52},{"t":7.5,"v":0.0148,"f":52},{"t":8.0,"v":0.0155,"f":52},{"t":8.5,"v":0.0157,"f":52},{"t":9.0,"v":0.0156,"f":52},{"t":9.5,"v":0.0154,"f":52},{"t":10.0,"v":0.015,"f":52},{"t":10.5,"v":0.0147,"f":52},{"t":11.0,"v":0.0145,"f":52},{"t":11.5,"v":0.0146,"f":52},{"t":11.8,"v":0.015,"f":52},{"t":12.0,"v":0.03,"f":52},{"t":12.2,"v":0.048,"f":52},{"t":12.4,"v":0.057,"f":52},{"t":12.6,"v":0.054,"f":52},{"t":12.9,"v":0.046,"f":52},{"t":13.2,"v":0.04,"f":52},{"t":13.5,"v":0.034,"f":52},{"t":13.8,"v":0.029,"f":52},{"t":14.1,"v":0.024,"f":52},{"t":14.4,"v":0.02,"f":52},{"t":14.7,"v":0.018,"f":52},{"t":15.0,"v":0.019,"f":52},{"t":15.3,"v":0.0205,"f":52},{"t":15.6,"v":0.0205,"f":52},{"t":16.0,"v":0.019,"f":52},{"t":16.5,"v":0.0175,"f":52},{"t":17.0,"v":0.017,"f":52},{"t":17.5,"v":0.0168,"f":52},{"t":18.0,"v":0.017,"f":52},{"t":18.5,"v":0.0168,"f":52},{"t":19.0,"v":0.017,"f":52},{"t":19.5,"v":0.0165,"f":52},{"t":20.0,"v":0.0166,"f":52},{"t":20.5,"v":0.0164,"f":52},{"t":21.0,"v":0.017,"f":52},{"t":21.5,"v":0.0185,"f":52},{"t":21.9,"v":0.0205,"f":52},{"t":22.3,"v":0.0195,"f":52},{"t":22.8,"v":0.0185,"f":52},{"t":23.3,"v":0.0185,"f":52},{"t":23.6,"v":0.02,"f":52},{"t":23.8,"v":0.023,"f":52},{"t":24.0,"v":0.026,"f":52}
    ]
  },
  "vconcat": [
    {
      "width": 450,
      "height": 280,
      "layer": [
        {
          "data": {"name": "band"},
          "mark": {"type": "area", "color": "#a020f0", "opacity": 1},
          "encoding": {
            "x": {"field": "t", "type": "quantitative", "scale": {"domain": [0, 24], "nice": false},
              "axis": {"orient": "bottom", "values": [0,1,2,3,4,5,6,7,8,9,10,11,12,13,14,15,16,17,18,19,20,21,22,23,24], "labels": false, "title": null,
                "tickSize": {"condition": {"test": "datum.value % 6 === 0", "value": 6}, "value": 3}}},
            "y": {"field": "lo", "type": "quantitative", "scale": {"domain": [-90, 90], "nice": false},
              "axis": {"orient": "left", "values": [-90,-80,-70,-60,-50,-40,-30,-20,-10,0,10,20,30,40,50,60,70,80,90],
                "labelExpr": "datum.value % 30 === 0 ? '' + datum.value : ''", "labelPadding": 4,
                "tickSize": {"condition": {"test": "datum.value % 30 === 0", "value": 10}, "value": 5},
                "title": "Azimuthal angle (deg)", "titlePadding": 11}},
            "y2": {"field": "hi"},
            "detail": {"field": "seg"}
          }
        },
        {
          "data": {"name": "dfa"},
          "mark": {"type": "square", "size": 7, "opacity": 1},
          "encoding": {
            "x": {"field": "t", "type": "quantitative",
              "axis": {"orient": "top", "values": [0,1,2,3,4,5,6,7,8,9,10,11,12,13,14,15,16,17,18,19,20,21,22,23,24], "labels": false, "title": null,
                "tickSize": {"condition": {"test": "datum.value % 6 === 0", "value": 6}, "value": 3}}},
            "y": {"field": "a", "type": "quantitative",
              "axis": {"orient": "right", "values": [-90,-80,-70,-60,-50,-40,-30,-20,-10,0,10,20,30,40,50,60,70,80,90], "labels": false, "title": null,
                "tickSize": {"condition": {"test": "datum.value % 30 === 0", "value": 10}, "value": 5}}},
            "color": {"field": "f", "type": "ordinal",
              "scale": {"domain": [52,100,120,148,272,540,940], "range": ["#ff0000","#ffa000","#c8be00","#00f000","#00a8ff","#0000ff","#a020f0"]},
              "legend": {"title": "Frequencies (kHz):", "orient": "bottom", "direction": "horizontal", "titleOrient": "left", "titlePadding": -2,
                "titleFontSize": 14, "titleFontWeight": "normal", "titleColor": "black", "titleFont": "Liberation Sans",
                "labelFontSize": 14, "labelFont": "Liberation Sans", "labelOffset": 0, "symbolSize": 0, "symbolOpacity": 0, "symbolStrokeWidth": 0,
                "gridAlign": "all", "columnPadding": 12, "offset": 14,
                "labelColor": {"expr": "datum.label == '52' ? '#ff0000' : datum.label == '100' ? '#ffa000' : datum.label == '120' ? '#c8be00' : datum.label == '148' ? '#00f000' : datum.label == '272' ? '#00a8ff' : datum.label == '540' ? '#0000ff' : '#a020f0'"}}}
          }
        },
        {
          "data": {"name": "body"},
          "transform": [{"filter": "datum.body === 'Jupiter'"}],
          "mark": {"type": "line", "color": "black", "strokeWidth": 2},
          "encoding": {"x": {"field": "t", "type": "quantitative", "axis": null}, "y": {"field": "a", "type": "quantitative", "axis": null}}
        },
        {
          "data": {"name": "body"},
          "transform": [{"filter": "datum.body === 'Saturn'"}],
          "mark": {"type": "line", "color": "#ff0000", "strokeWidth": 4},
          "encoding": {"x": {"field": "t", "type": "quantitative", "axis": null}, "y": {"field": "a", "type": "quantitative", "axis": null}}
        },
        {
          "data": {"name": "body"},
          "transform": [{"filter": "datum.t === 24 && datum.body === 'Saturn'"}],
          "mark": {"type": "text", "align": "left", "baseline": "middle", "dx": 3, "dy": 0, "fontSize": 13, "fontWeight": "bold", "font": "Liberation Sans", "color": "black"},
          "encoding": {"x": {"field": "t", "type": "quantitative", "axis": null}, "y": {"field": "a", "type": "quantitative", "axis": null}, "text": {"field": "body"}}
        },
        {
          "data": {"name": "body"},
          "transform": [{"filter": "datum.t === 24 && datum.body === 'Jupiter'"}],
          "mark": {"type": "text", "align": "left", "baseline": "middle", "dx": 3, "dy": -2.5, "fontSize": 13, "fontWeight": "bold", "font": "Liberation Sans", "color": "black"},
          "encoding": {"x": {"field": "t", "type": "quantitative", "axis": null}, "y": {"field": "a", "type": "quantitative", "axis": null}, "text": {"field": "body"}}
        }
      ],
      "resolve": {"axis": {"x": "independent", "y": "independent"}}
    },
    {
      "width": 450,
      "height": 211,
      "layer": [
        {
          "data": {"name": "ints"},
          "mark": {"type": "line", "strokeWidth": 2.5, "clip": true},
          "encoding": {
            "x": {"field": "t", "type": "quantitative", "scale": {"domain": [0, 24], "nice": false},
              "axis": {"orient": "bottom", "values": [0,1,2,3,4,5,6,7,8,9,10,11,12,13,14,15,16,17,18,19,20,21,22,23,24],
                "labelExpr": "datum.value % 6 === 0 ? '' + datum.value : ''", "labelPadding": 10,
                "tickSize": {"condition": {"test": "datum.value % 6 === 0", "value": 6}, "value": 3},
                "title": "time - hours on 2000-05-11", "titlePadding": 6}},
            "y": {"field": "v", "type": "quantitative", "scale": {"type": "log", "domain": [0.01, 1], "nice": false},
              "axis": {"orient": "left", "values": [0.01,0.02,0.05,0.1,0.2,0.5,1],
                "labelExpr": "datum.value == 1 ? '1.00' : datum.value == 0.1 ? '0.10' : datum.value == 0.01 ? '0.01' : ''", "labelPadding": 4,
                "tickSize": {"condition": {"test": "datum.value == 1 || datum.value == 0.1 || datum.value == 0.01", "value": 10}, "value": 5},
                "title": "intensity (microvolt/sqrt(Hz))", "titlePadding": 9}},
            "color": {"field": "f", "type": "ordinal",
              "scale": {"domain": [52,100,120,148,272,540,940], "range": ["#ff0000","#ffa000","#c8be00","#00f000","#00a8ff","#0000ff","#a020f0"]},
              "legend": {"title": "Frequencies (kHz):", "orient": "bottom", "direction": "horizontal", "titleOrient": "left", "titlePadding": -2,
                "titleFontSize": 14, "titleFontWeight": "normal", "titleColor": "black", "titleFont": "Liberation Sans",
                "labelFontSize": 14, "labelFont": "Liberation Sans", "labelOffset": 0, "symbolSize": 0, "symbolOpacity": 0, "symbolStrokeWidth": 0,
                "gridAlign": "all", "columnPadding": 12, "offset": 14,
                "labelColor": {"expr": "datum.label == '52' ? '#ff0000' : datum.label == '100' ? '#ffa000' : datum.label == '120' ? '#c8be00' : datum.label == '148' ? '#00f000' : datum.label == '272' ? '#00a8ff' : datum.label == '540' ? '#0000ff' : '#a020f0'"}}}
          }
        },
        {
          "data": {"name": "ints"},
          "transform": [{"filter": "datum.t < 0"}],
          "mark": {"type": "point", "opacity": 0},
          "encoding": {
            "x": {"field": "t", "type": "quantitative",
              "axis": {"orient": "top", "values": [0,1,2,3,4,5,6,7,8,9,10,11,12,13,14,15,16,17,18,19,20,21,22,23,24], "labels": false, "title": null,
                "tickSize": {"condition": {"test": "datum.value % 6 === 0", "value": 6}, "value": 3}}},
            "y": {"field": "v", "type": "quantitative",
              "axis": {"orient": "right", "values": [0.01,0.02,0.05,0.1,0.2,0.5,1], "labels": false, "title": null,
                "tickSize": {"condition": {"test": "datum.value == 1 || datum.value == 0.1 || datum.value == 0.01", "value": 10}, "value": 5}}}
          }
        }
      ],
      "resolve": {"axis": {"x": "independent", "y": "independent"}}
    }
  ],
  "config": {
    "font": "Liberation Sans",
    "view": {"stroke": null},
    "axis": {"domainColor": "black", "tickColor": "black", "labelColor": "black", "titleColor": "black", "labelFontSize": 14, "titleFontSize": 14, "titleFontWeight": "normal", "grid": false, "labelFont": "Liberation Sans", "titleFont": "Liberation Sans", "domainWidth": 1, "tickWidth": 1, "labelOverlap": false, "labelFlush": false}
  }
}
